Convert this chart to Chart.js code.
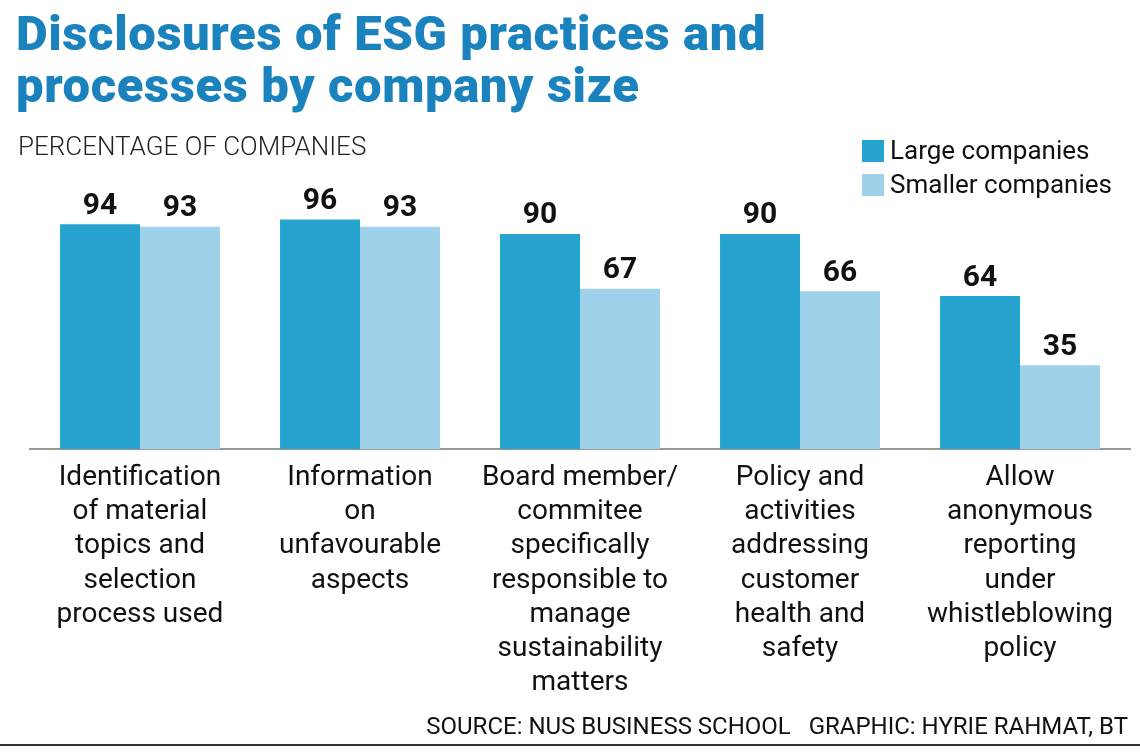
<!DOCTYPE html>
<html><head><meta charset="utf-8">
<script src="https://cdn.jsdelivr.net/npm/chart.js@4/dist/chart.umd.min.js"></script>
<style>
body{margin:0;width:1140px;height:753px;background:#fff;position:relative;overflow:hidden;font-family:Roboto,"Noto Sans",sans-serif}
#t{position:absolute;left:16px;top:8px;font-size:49px;font-weight:900;line-height:52px;color:#1a82bd;letter-spacing:0.6px}
#s{position:absolute;left:18px;top:131px;font-size:26px;font-weight:300;color:#222}
.lg{position:absolute;left:862px;font-size:26px;color:#111}
.lg span{display:inline-block;width:22px;height:22px;vertical-align:-3px;margin-right:6px}
#src{position:absolute;right:12px;top:712px;font-size:24px;color:#111}
#ln{position:absolute;left:0;right:0;top:744px;border-top:2px solid #333}
canvas{position:absolute;left:0;top:0}
</style></head><body>
<canvas id="c" width="1140" height="753"></canvas>
<div id="t">Disclosures of ESG practices and<br>processes by company size</div>
<div id="s">PERCENTAGE OF COMPANIES</div>
<div class="lg" style="top:135px"><span style="background:#27a3cf"></span>Large companies</div>
<div class="lg" style="top:169px"><span style="background:#9fd1ea"></span>Smaller companies</div>
<div id="src">SOURCE: NUS BUSINESS SCHOOL &nbsp; GRAPHIC: HYRIE RAHMAT, BT</div>
<div id="ln"></div>
<script>
const categories=[["Identification","of material","topics and","selection","process used"],["Information","on","unfavourable","aspects"],["Board member/","commitee","specifically","responsible to","manage","sustainability","matters"],["Policy and","activities","addressing","customer","health and","safety"],["Allow","anonymous","reporting","under","whistleblowing","policy"]];
const large=[94,96,90,90,64];
const smaller=[93,93,67,66,35];
const labelPlugin={id:'lbl',afterDatasetsDraw(ch){const x=ch.ctx;x.save();x.font='bold 30px Roboto';x.fillStyle='#111';x.textAlign='center';x.textBaseline='bottom';
ch.data.datasets.forEach((d,i)=>ch.getDatasetMeta(i).data.forEach((b,j)=>x.fillText(d.data[j],b.x,b.y-3)));x.restore();}};
new Chart(document.getElementById('c'),{type:'bar',
data:{labels:categories,datasets:[{data:large,backgroundColor:'#27a3cf'},{data:smaller,backgroundColor:'#9fd1ea'}]},
options:{responsive:false,animation:false,layout:{padding:{top:210,left:30,right:10,bottom:0}},
plugins:{legend:{display:false},tooltip:{enabled:false}},
datasets:{bar:{categoryPercentage:0.727,barPercentage:1}},
scales:{y:{display:false,min:0,max:100},
x:{afterFit(s){s.height=304},grid:{display:false},border:{color:'#999',width:2},
ticks:{color:'#111',maxRotation:0,autoSkip:false,padding:4,font:{family:'Roboto',size:28,lineHeight:1.22}}}}},
plugins:[labelPlugin]});
</script></body></html>
